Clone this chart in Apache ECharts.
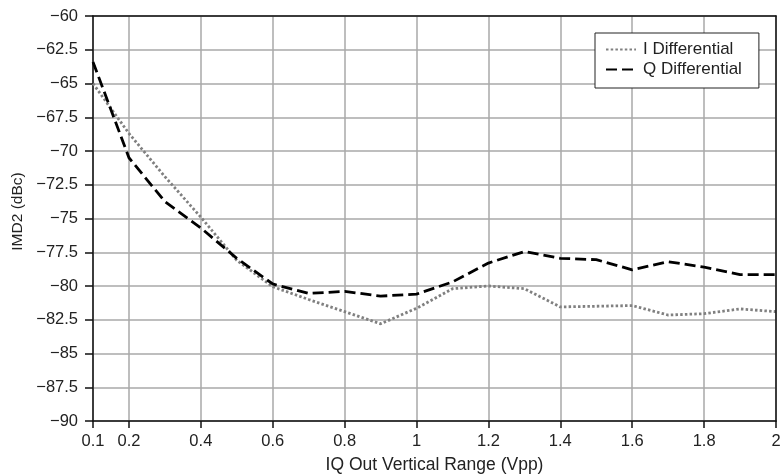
<!DOCTYPE html>
<html>
<head>
<meta charset="utf-8">
<script src="https://cdn.jsdelivr.net/npm/echarts@6/dist/echarts.min.js"></script>
<style>
html,body{margin:0;padding:0;background:#fff;}
#chart{width:783px;height:474px;}
</style>
</head>
<body>
<div id="chart"></div>
<script>
const xValues = [0.1,0.2,0.3,0.4,0.5,0.6,0.7,0.8,0.9,1.0,1.1,1.2,1.3,1.4,1.5,1.6,1.7,1.8,1.9,2.0];
const iDifferential = [-65.0,-68.7,-71.9,-74.9,-78.1,-80.05,-81.0,-81.9,-82.8,-81.65,-80.2,-80.0,-80.2,-81.55,-81.5,-81.45,-82.15,-82.05,-81.7,-81.9];
const qDifferential = [-63.4,-70.5,-73.75,-75.7,-77.95,-79.85,-80.55,-80.4,-80.75,-80.6,-79.7,-78.3,-77.45,-77.95,-78.05,-78.8,-78.2,-78.6,-79.15,-79.15];
const xTicks = [0.1,0.2,0.4,0.6,0.8,1.0,1.2,1.4,1.6,1.8,2.0];
const seriesNames = ['I Differential','Q Differential'];
const xName = 'IQ Out Vertical Range (Vpp)';
const yName = 'IMD2 (dBc)';

const font = 'Liberation Sans, Arial, Helvetica, sans-serif';
const chart = echarts.init(document.getElementById('chart'), null, {renderer:'canvas'});
const pair = (ys) => xValues.map((x,i)=>[x, ys[i]]);

chart.setOption({
  animation:false,
  backgroundColor:'#fff',
  grid:{left:93, right:7, top:16, bottom:53, containLabel:false, outerBoundsMode:'none'},
  legend:{
    orient:'vertical',
    left:595, top:33,
    padding:[8,17,10,10],
    itemGap:3,
    itemWidth:30, itemHeight:16,
    backgroundColor:'#fff',
    borderColor:'#222', borderWidth:1, borderRadius:0,
    itemStyle:{opacity:0},
    textStyle:{fontFamily:font, fontSize:17, color:'#222', padding:[0,0,0,2]},
    data:seriesNames
  },
  xAxis:[{
    type:'value', min:0.1, max:2,
    name:xName, nameLocation:'middle', nameGap:35,
    nameTextStyle:{fontFamily:font, fontSize:17.5, color:'#222'},
    axisLine:{show:true, lineStyle:{color:'#111', width:1.5}},
    axisTick:{show:true, length:7, inside:false, customValues:xTicks, lineStyle:{color:'#111', width:1.5}},
    axisLabel:{customValues:xTicks, fontFamily:font, fontSize:16.5, color:'#222', margin:12,
      formatter:(v)=>String(+v.toFixed(1))},
    splitLine:{show:true, lineStyle:{color:'#a8a8a8', width:1.5}}
  },{
    type:'value', min:0.1, max:2, position:'top', z:5,
    axisLine:{show:true, lineStyle:{color:'#111', width:1.5}},
    axisTick:{show:false}, axisLabel:{show:false}, splitLine:{show:false}
  }],
  yAxis:[{
    type:'value', min:-90, max:-60, interval:2.5,
    name:yName, nameLocation:'middle', nameGap:60, nameRotate:90,
    nameTextStyle:{fontFamily:font, fontSize:15.5, color:'#222', padding:[0,0,0,14]},
    axisLine:{show:true, lineStyle:{color:'#111', width:1.5}},
    axisTick:{show:true, length:8, inside:false, lineStyle:{color:'#111', width:1.5}},
    axisLabel:{fontFamily:font, fontSize:16.5, color:'#222', margin:15,
      formatter:(v)=>String(v).replace('-', '\u2212')},
    splitLine:{show:true, lineStyle:{color:'#a8a8a8', width:1.5}}
  },{
    type:'value', min:-90, max:-60, interval:2.5, position:'right', z:5,
    axisLine:{show:true, lineStyle:{color:'#111', width:1.5}},
    axisTick:{show:false}, axisLabel:{show:false}, splitLine:{show:false}
  }],
  series:[{
    name:seriesNames[0], type:'line', symbol:'none', z:3,
    data:pair(iDifferential),
    itemStyle:{color:'#808080'},
    lineStyle:{color:'#808080', width:2.8, type:[2.5,2.2]}
  },{
    name:seriesNames[1], type:'line', symbol:'none', z:4,
    data:pair(qDifferential),
    itemStyle:{color:'#000'},
    lineStyle:{color:'#000', width:2.8, type:[11,5]}
  }]
});
</script>
</body>
</html>
